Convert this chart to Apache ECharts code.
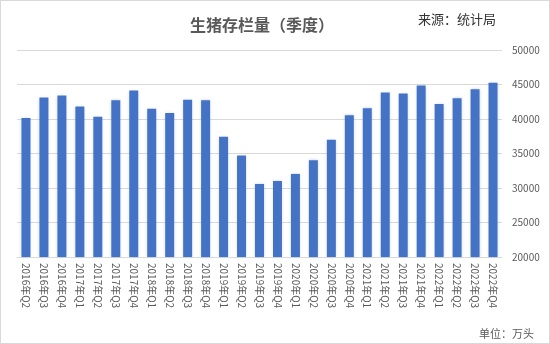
<!DOCTYPE html>
<html>
<head>
<meta charset="utf-8">
<script src="https://cdn.jsdelivr.net/npm/echarts@6/dist/echarts.min.js"></script>
<style>
html,body{margin:0;padding:0;background:#fff;}
#c{width:548px;height:342px;border:1px solid #d9d9d9;}
</style>
</head>
<body>
<div id="c"></div>
<script>
const categories = ['2016年Q2','2016年Q3','2016年Q4','2017年Q1','2017年Q2','2017年Q3','2017年Q4','2018年Q1','2018年Q2','2018年Q3','2018年Q4','2019年Q1','2019年Q2','2019年Q3','2019年Q4','2020年Q1','2020年Q2','2020年Q3','2020年Q4','2021年Q1','2021年Q2','2021年Q3','2021年Q4','2022年Q1','2022年Q2','2022年Q3','2022年Q4'];
const values = [40150,43100,43400,41800,40340,42720,44130,41500,40870,42800,42720,37430,34700,30580,31020,32040,34030,36990,40530,41550,43835,43690,44850,42180,43010,44320,45240];
const yTicks = [20000,25000,30000,35000,40000,45000,50000];

const chart = echarts.init(document.getElementById('c'));
chart.setOption({
  animation:false,
  title:[
    {text:'生猪存栏量（季度）',left:256,top:11,textAlign:'center',
     textStyle:{fontSize:16,fontWeight:'bold',color:'#595959',fontFamily:'Noto Sans CJK SC'}},
    {text:'来源：统计局',right:48,top:7,
     textStyle:{fontSize:13,fontWeight:'normal',color:'#333',fontFamily:'Noto Sans CJK SC'}},
    {text:'单位：万头',right:10,top:322,
     textStyle:{fontSize:11,fontWeight:'normal',color:'#595959',fontFamily:'Noto Sans CJK SC'}}
  ],
  grid:{left:16,right:47,top:49,bottom:86},
  xAxis:{
    type:'category',data:categories,
    axisLine:{lineStyle:{color:'#d9d9d9'}},
    axisTick:{show:false},
    axisLabel:{rotate:-90,interval:0,fontSize:10,color:'#595959',margin:6,fontFamily:'Noto Sans CJK SC'}
  },
  yAxis:{
    type:'value',position:'right',min:yTicks[0],max:yTicks[yTicks.length-1],interval:5000,
    axisLine:{show:false},axisTick:{show:false},
    splitLine:{lineStyle:{color:'#d9d9d9'}},
    axisLabel:{fontSize:10,color:'#595959',margin:10,fontFamily:'Noto Sans CJK SC',formatter:v=>String(v)}
  },
  series:[{
    type:'bar',data:values,barWidth:'50%',
    itemStyle:{color:'#4472C4',shadowColor:'rgba(68,114,196,0.35)',shadowBlur:3}
  }]
});
</script>
</body>
</html>
